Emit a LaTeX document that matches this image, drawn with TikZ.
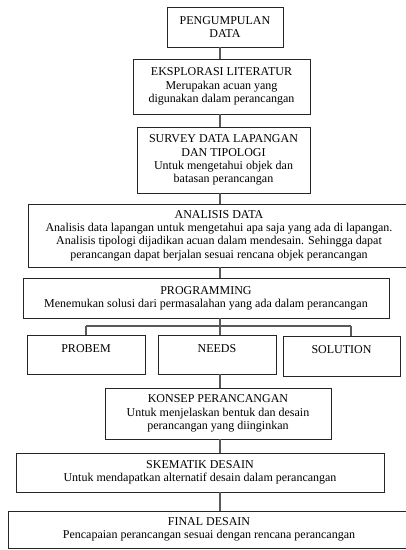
\documentclass[tikz,border=0pt]{standalone}
\usepackage{fontspec}
\setmainfont{Liberation Serif}
\usetikzlibrary{positioning}

\begin{document}
\begin{tikzpicture}[x=1pt, y=-1pt,
  box/.style={rectangle, draw=black!85, line width=0.9pt, align=center, inner sep=1pt, font=\fontsize{12}{13.3}\selectfont},
  topbox/.style={box, minimum height=39, text height=15pt, text depth=20pt, inner ysep=2pt},
  link/.style={draw=black!65, line width=1.3pt}]

\useasboundingbox (0,0) rectangle (406,550);
\clip (0,0) rectangle (406,550);

% Spine of the chart
\coordinate (spine) at (220,0);

% Main steps
\node[box, minimum width=116, minimum height=40] (pd) at (225,27) {PENGUMPULAN\\DATA};
\node[box, minimum width=177, minimum height=55] (el) at (221.5,86.5) {EKSPLORASI LITERATUR\\Merupakan acuan yang\\digunakan dalam perancangan};
\node[box, minimum width=173, minimum height=66] (sd) at (223.5,160) {SURVEY DATA LAPANGAN\\DAN TIPOLOGI\\Untuk mengetahui objek dan\\batasan perancangan};
\node[box, minimum width=382, minimum height=63] (ad) at (219,235.5) {ANALISIS DATA\\Analisis data lapangan untuk mengetahui apa saja yang ada di lapangan.\\Analisis tipologi dijadikan acuan dalam mendesain. Sehingga dapat\\perancangan dapat berjalan sesuai rencana objek perancangan};
\node[box, minimum width=366, minimum height=40] (pg) at (206,298) {PROGRAMMING\\Menemukan solusi dari permasalahan yang ada dalam perancangan};

% Programming parts
\node[topbox, minimum width=118] (pb) at (86,354.5) {PROBEM};
\node[topbox, minimum width=118] (nd) at (217,354.5) {NEEDS};
\node[topbox, minimum width=117, minimum height=40] (so) at (341.5,356) {SOLUTION};

% Design steps
\node[box, minimum width=226, minimum height=51] (kp) at (218,413.5) {KONSEP PERANCANGAN\\Untuk menjelaskan bentuk dan desain\\perancangan yang diinginkan};
\node[box, minimum width=368, minimum height=39] (sk) at (200,472.5) {SKEMATIK DESAIN\\Untuk mendapatkan alternatif desain dalam perancangan};
\node[box, minimum width=402, minimum height=37] (fd) at (209,529.5) {FINAL DESAIN\\Pencapaian perancangan sesuai dengan rencana perancangan};

% Connections
\draw[link] (pd.south -| spine) -- (el.north -| spine);
\draw[link] (el.south -| spine) -- (sd.north -| spine);
\draw[link] (sd.south -| spine) -- (ad.north -| spine);
\draw[link] (ad.south -| spine) -- (pg.north -| spine);

% Branches
\coordinate (brL) at (86,326);
\coordinate (brR) at (351,326);
\draw[link] (pg.south -| spine) -- (brL -| spine);
\draw[link] (brL) -- (brR);
\draw[link] (brL) -- (brL |- pb.north);
\draw[link] (brL -| spine) -- (nd.north -| spine);
\draw[link] (brR) -- (brR |- so.north);

\draw[link] (nd.south -| spine) -- (kp.north -| spine);
\draw[link] (kp.south -| spine) -- (sk.north -| spine);
\draw[link] (sk.south -| spine) -- (fd.north -| spine);

\end{tikzpicture}
\end{document}
